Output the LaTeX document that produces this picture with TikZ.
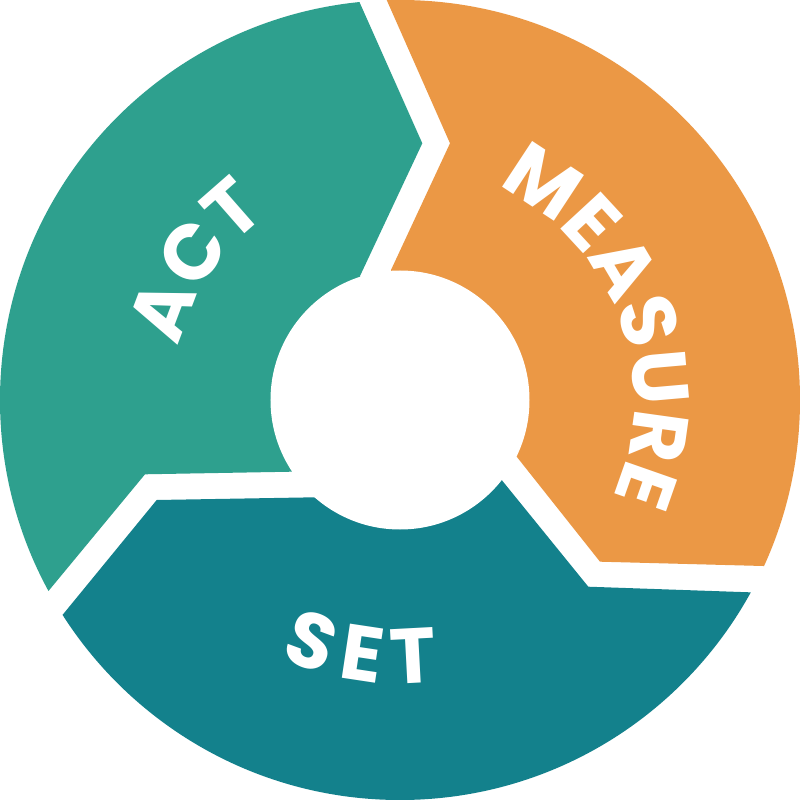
\documentclass[tikz,border=0pt]{standalone}
\usepackage{fontspec}
\newfontfamily\popfam{Poppins}
\usetikzlibrary{calc,decorations.text}
\definecolor{actgreen}{HTML}{2EA08E}
\definecolor{setteal}{HTML}{13818C}
\definecolor{measorange}{HTML}{EB9845}
\newcommand\segfont{\popfam\bfseries\fontsize{78}{78}\selectfont}
\begin{document}
\begin{tikzpicture}[x=1pt,y=1pt,
  segtext/.style={decorate, decoration={text along path, text color=white, text align=center, text={|\segfont|#1}}}]
\useasboundingbox (-400,-400) rectangle (400,400);
\fill[white] (-400,-400) rectangle (400,400);
% top gap
\coordinate (aTi) at (-40,124);   \coordinate (aTv) at (22.3,256.7);  \coordinate (aTo) at (-40.7,398.3);
\coordinate (mTi) at (-9,130);    \coordinate (mTv) at (50,256.7);    \coordinate (mTo) at (-13.3,400);
% right gap
\coordinate (mRi) at (116.7,-56.7); \coordinate (mRv) at (200,-161.7);   \coordinate (mRo) at (363.3,-166);
\coordinate (sRi) at (101.7,-80);   \coordinate (sRv) at (188.3,-186.7); \coordinate (sRo) at (349.3,-192.3);
% left gap
\coordinate (aLi) at (-108.3,-71.7); \coordinate (aLv) at (-255,-74.3);  \coordinate (aLo) at (-350.7,-190);
\coordinate (sLi) at (-85,-97.3);    \coordinate (sLv) at (-243.3,-100); \coordinate (sLo) at (-336.7,-214);
\begin{scope}
\clip (0,0) circle (400);
\fill[actgreen] (0,0) -- (aTi) -- (aTv) -- ($(aTv)!2!(aTo)$) -- (120:600) -- (150:600) -- (180:600)
  -- ($(aLv)!2!(aLo)$) -- (aLv) -- (aLi) -- cycle;
\fill[measorange] (0,0) -- (mTi) -- (mTv) -- ($(mTv)!2!(mTo)$) -- (60:600) -- (20:600) -- (-10:600)
  -- ($(mRv)!2!(mRo)$) -- (mRv) -- (mRi) -- cycle;
\fill[setteal] (0,0) -- (sRi) -- (sRv) -- ($(sRv)!2!(sRo)$) -- (330:600) -- (300:600) -- (270:600) -- (240:600)
  -- ($(sLv)!2!(sLo)$) -- (sLv) -- (sLi) -- cycle;
\end{scope}
\node[circle, fill=white, inner sep=0pt, minimum size=259pt] (hub) at (0,0) {};
\path[segtext={MEASURE}] (80.5:234) arc[start angle=80.5, end angle=-39.5, radius=234];
\path[segtext={ACT}] (206:227) arc[start angle=206, end angle=86, radius=227];
\path[segtext={S{\kern13pt}E{\kern13pt}T}] (201.3:284) arc[start angle=201.3, end angle=321.3, radius=284];
\end{tikzpicture}
\end{document}
